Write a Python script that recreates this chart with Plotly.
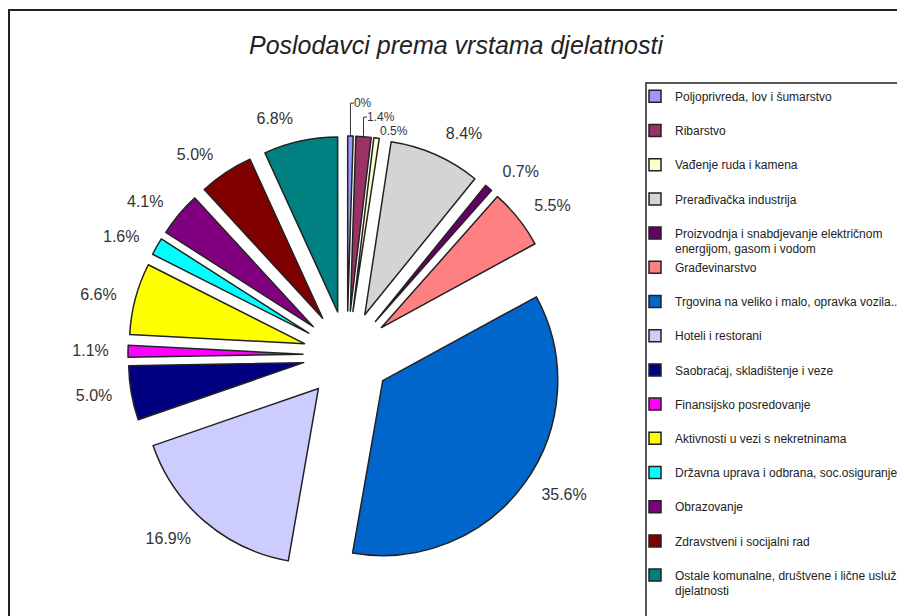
import plotly.graph_objects as go

categories = [
    "Poljoprivreda, lov i šumarstvo",
    "Ribarstvo",
    "Vađenje ruda i kamena",
    "Prerađivačka industrija",
    "Proizvodnja i snabdjevanje električnom<br>energijom, gasom i vodom",
    "Građevinarstvo",
    "Trgovina na veliko i malo, opravka vozila...",
    "Hoteli i restorani",
    "Saobraćaj, skladištenje i veze",
    "Finansijsko posredovanje",
    "Aktivnosti u vezi s nekretninama",
    "Državna uprava i odbrana, soc.osiguranje",
    "Obrazovanje",
    "Zdravstveni i socijalni rad",
    "Ostale komunalne, društvene i lične uslužne<br>djelatnosti",
]
values = [0.5, 1.4, 0.5, 8.4, 0.7, 5.5, 35.6, 16.9, 5.0, 1.1, 6.6, 1.6, 4.1, 5.0, 6.8]
value_labels = ["0%", "1.4%", "0.5%", "8.4%", "0.7%", "5.5%", "35.6%", "16.9%",
                "5.0%", "1.1%", "6.6%", "1.6%", "4.1%", "5.0%", "6.8%"]

colors = ["#9999FF", "#993366", "#FFFFCC", "#D4D4D4", "#660066", "#FF8080",
          "#0066CC", "#CCCCFF", "#000080", "#FF00FF", "#FFFF00", "#00FFFF",
          "#800080", "#800000", "#008080"]
label_sizes = [12, 12, 12, 16, 16, 16, 16, 16, 16, 16, 16, 16, 16, 16, 16]
# small slices get leader-line labels on the pie itself; others sit a bit further out
small = [True, True, True] + [False] * 12

# pad single-line legend entries to two lines so every entry takes the same slot
legend_names = [c if "<br>" in c else c + "<br> " for c in categories]

# page has an 8px body margin, so the figure covers screen pixels 8..905 / 8..616
OFF = 8
W, H = 905 - OFF, 616 - OFF
cx, cy, r, pull_px = 347 - OFF, 355 - OFF, 175, 44
label_gap = 15


def domain_for(radius):
    half = radius + pull_px
    return dict(x=[(cx - half) / W, (cx + half) / W],
                y=[1 - (cy + half) / H, 1 - (cy - half) / H])


font_fam = "Liberation Sans, Arial, sans-serif"

fig = go.Figure()
fig.add_trace(go.Pie(
    labels=legend_names,
    values=values,
    text=value_labels,
    texttemplate="%{text}",
    textposition=["outside" if s else "none" for s in small],
    textfont=dict(family=font_fam, size=label_sizes, color="#333333"),
    marker=dict(colors=colors, line=dict(color="#222222", width=1.5)),
    sort=False,
    direction="clockwise",
    rotation=0,
    pull=[pull_px / r] * len(values),
    domain=domain_for(r),
    hoverinfo="label+percent",
))
# invisible, slightly larger copy that carries the labels of the bigger slices
r2 = r + label_gap
fig.add_trace(go.Pie(
    labels=legend_names,
    values=values,
    text=value_labels,
    texttemplate="%{text}",
    textposition=["none" if s else "outside" for s in small],
    textfont=dict(family=font_fam, size=label_sizes, color="#333333"),
    marker=dict(colors=["rgba(0,0,0,0)"] * len(values), line=dict(width=0)),
    sort=False,
    direction="clockwise",
    rotation=0,
    pull=[pull_px / r2] * len(values),
    domain=domain_for(r2),
    hoverinfo="skip",
    showlegend=False,
))

legend_left, legend_top = 646 - OFF, 83 - OFF

fig.update_layout(
    width=W, height=H,
    margin=dict(l=0, r=0, t=0, b=0, autoexpand=False),
    paper_bgcolor="white",
    plot_bgcolor="white",
    font=dict(family=font_fam, color="#222222"),
    title=dict(
        text="<i>Poslodavci prema vrstama djelatnosti</i>",
        x=(456 - OFF) / W, xanchor="center",
        y=1 - (45 - OFF) / H, yanchor="middle",
        font=dict(size=25, color="#222222", family=font_fam),
    ),
    showlegend=True,
    legend=dict(
        x=(legend_left + 1) / W, xanchor="left",
        y=1 - (legend_top - 1) / H, yanchor="top",
        borderwidth=0,
        bgcolor="rgba(0,0,0,0)",
        font=dict(size=12, color="#222222", family=font_fam),
        valign="top",
        indentation=-12,
        traceorder="normal",
    ),
    shapes=[
        # outer chart frame (continues past the right and bottom edges)
        dict(type="rect", xref="paper", yref="paper",
             x0=1 / W, x1=1.1, y0=-0.1, y1=1 - 2 / H,
             line=dict(color="#222222", width=2), fillcolor="rgba(0,0,0,0)", layer="below"),
        # legend box (also continues past the right and bottom edges)
        dict(type="rect", xref="paper", yref="paper",
             x0=legend_left / W, x1=1.1, y0=-0.1, y1=1 - legend_top / H,
             line=dict(color="#222222", width=1.5), fillcolor="white", layer="below"),
    ],
)

fig.write_html("out.html")
